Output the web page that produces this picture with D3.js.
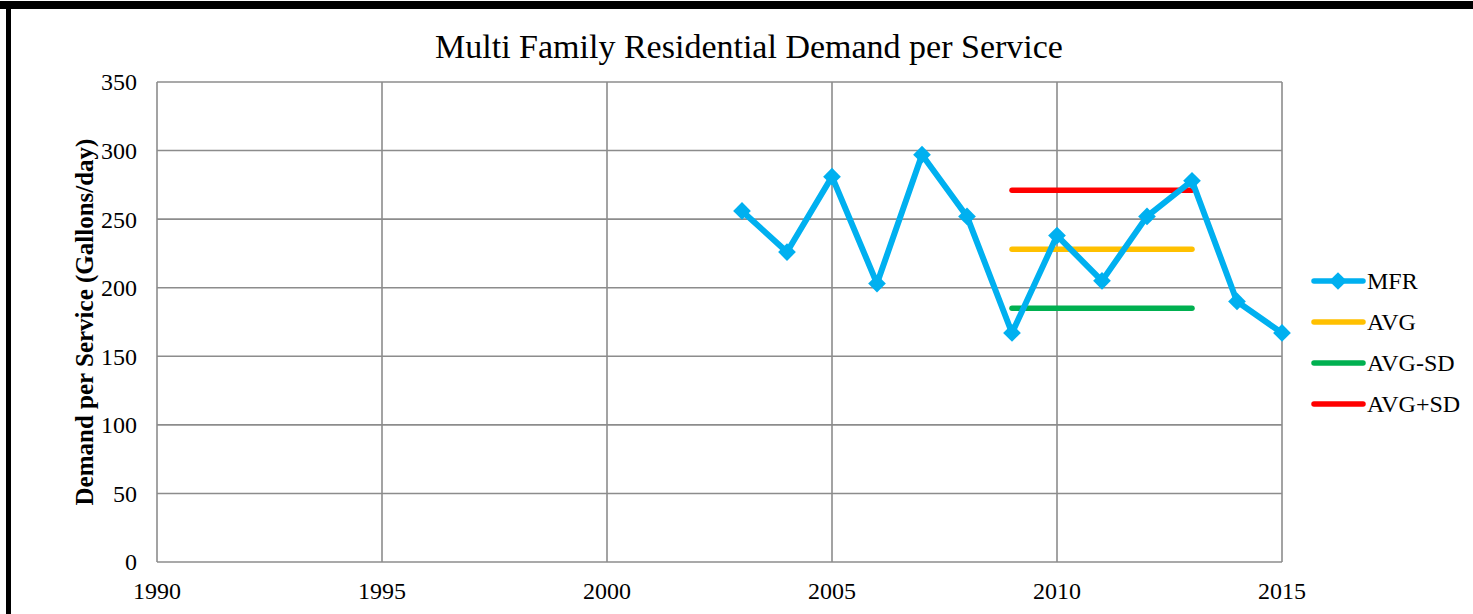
<!DOCTYPE html>
<meta charset="utf-8">
<style>
body { margin: 0; background: #fff; }
text { font-family: "Liberation Serif", "Times New Roman", serif; fill: #000; }
.grid line { stroke: #8c8c8c; stroke-width: 1.6px; }
</style>
<svg width="1473" height="614"></svg>
<script src="https://d3js.org/d3.v7.min.js"></script>
<script>

// data
var years = [2003, 2004, 2005, 2006, 2007, 2008, 2009, 2010, 2011, 2012, 2013, 2014, 2015];
var mfr = [256, 226, 281, 203, 297, 252, 167, 238, 205, 252, 278, 190, 167];
var statYears = [2009, 2013];
var avg = 228;
var avgMinusSd = 185;
var avgPlusSd = 271;
var xTicks = [1990, 1995, 2000, 2005, 2010, 2015];
var yTicks = [0, 50, 100, 150, 200, 250, 300, 350];

var svg = d3.select("svg");

// outer frame (thick top, left edge)
svg.append("rect").attr("x", 0).attr("y", 1).attr("width", 1473).attr("height", 8).attr("fill", "#000");
svg.append("rect").attr("x", 6).attr("y", 1).attr("width", 5).attr("height", 613).attr("fill", "#000");

var x = d3.scaleLinear().domain([1990, 2015]).range([157, 1282]);
var y = d3.scaleLinear().domain([0, 350]).range([562, 82]);

var grid = svg.append("g").attr("class", "grid");
grid.selectAll("line.h").data(yTicks).enter().append("line")
    .attr("x1", x(1990)).attr("x2", x(2015))
    .attr("y1", function(d) { return y(d); }).attr("y2", function(d) { return y(d); });
grid.selectAll("line.v").data(xTicks).enter().append("line")
    .attr("y1", y(0)).attr("y2", y(350))
    .attr("x1", function(d) { return x(d); }).attr("x2", function(d) { return x(d); });

svg.selectAll("text.ytick").data(yTicks).enter().append("text")
    .attr("x", 137).attr("y", function(d) { return y(d); })
    .attr("dy", "0.35em").attr("text-anchor", "end")
    .style("font-size", "24px")
    .text(function(d) { return d; });

svg.selectAll("text.xtick").data(xTicks).enter().append("text")
    .attr("x", function(d) { return x(d); }).attr("y", 591)
    .attr("dy", "0.35em").attr("text-anchor", "middle")
    .style("font-size", "24px")
    .text(function(d) { return d; });

svg.append("text")
    .attr("x", 749).attr("y", 58).attr("text-anchor", "middle")
    .style("font-size", "34px")
    .text("Multi Family Residential Demand per Service");

svg.append("text")
    .attr("transform", "translate(84," + 322 + ") rotate(-90)")
    .attr("text-anchor", "middle").attr("dy", "0.35em")
    .style("font-size", "25px").style("font-weight", "bold")
    .text("Demand per Service (Gallons/day)");

// stat lines
var stats = [
  {name: "AVG+SD", value: avgPlusSd, color: "#ff0000"},
  {name: "AVG", value: avg, color: "#ffc000"},
  {name: "AVG-SD", value: avgMinusSd, color: "#00b050"}
];
stats.forEach(function(s) {
  svg.append("line")
      .attr("x1", x(statYears[0])).attr("x2", x(statYears[1]))
      .attr("y1", y(s.value)).attr("y2", y(s.value))
      .attr("stroke", s.color).attr("stroke-width", 5.5).attr("stroke-linecap", "round");
});

var pts = years.map(function(d, i) { return [d, mfr[i]]; });
var line = d3.line().x(function(d) { return x(d[0]); }).y(function(d) { return y(d[1]); });

svg.append("path").datum(pts)
    .attr("d", line).attr("fill", "none")
    .attr("stroke", "#00b0f0").attr("stroke-width", 6).attr("stroke-linejoin", "round");

var diamond = d3.symbol().type(d3.symbolDiamond2).size(200);
svg.selectAll("path.pt").data(pts).enter().append("path")
    .attr("d", diamond)
    .attr("transform", function(d) { return "translate(" + x(d[0]) + "," + y(d[1]) + ")"; })
    .attr("fill", "#00b0f0");

// legend
var legend = [
  {name: "MFR", color: "#00b0f0", marker: true},
  {name: "AVG", color: "#ffc000"},
  {name: "AVG-SD", color: "#00b050"},
  {name: "AVG+SD", color: "#ff0000"}
];
var lg = svg.selectAll("g.leg").data(legend).enter().append("g")
    .attr("transform", function(d, i) { return "translate(0," + (281 + i * 41) + ")"; });
lg.append("line").attr("x1", 1314).attr("x2", 1363)
    .attr("stroke", function(d) { return d.color; })
    .attr("stroke-width", 5.5).attr("stroke-linecap", "round");
lg.filter(function(d) { return d.marker; }).append("path")
    .attr("d", diamond).attr("transform", "translate(1338,0)")
    .attr("fill", function(d) { return d.color; });
lg.append("text").attr("x", 1367).attr("dy", "0.35em")
    .style("font-size", "24px")
    .text(function(d) { return d.name; });

</script>
